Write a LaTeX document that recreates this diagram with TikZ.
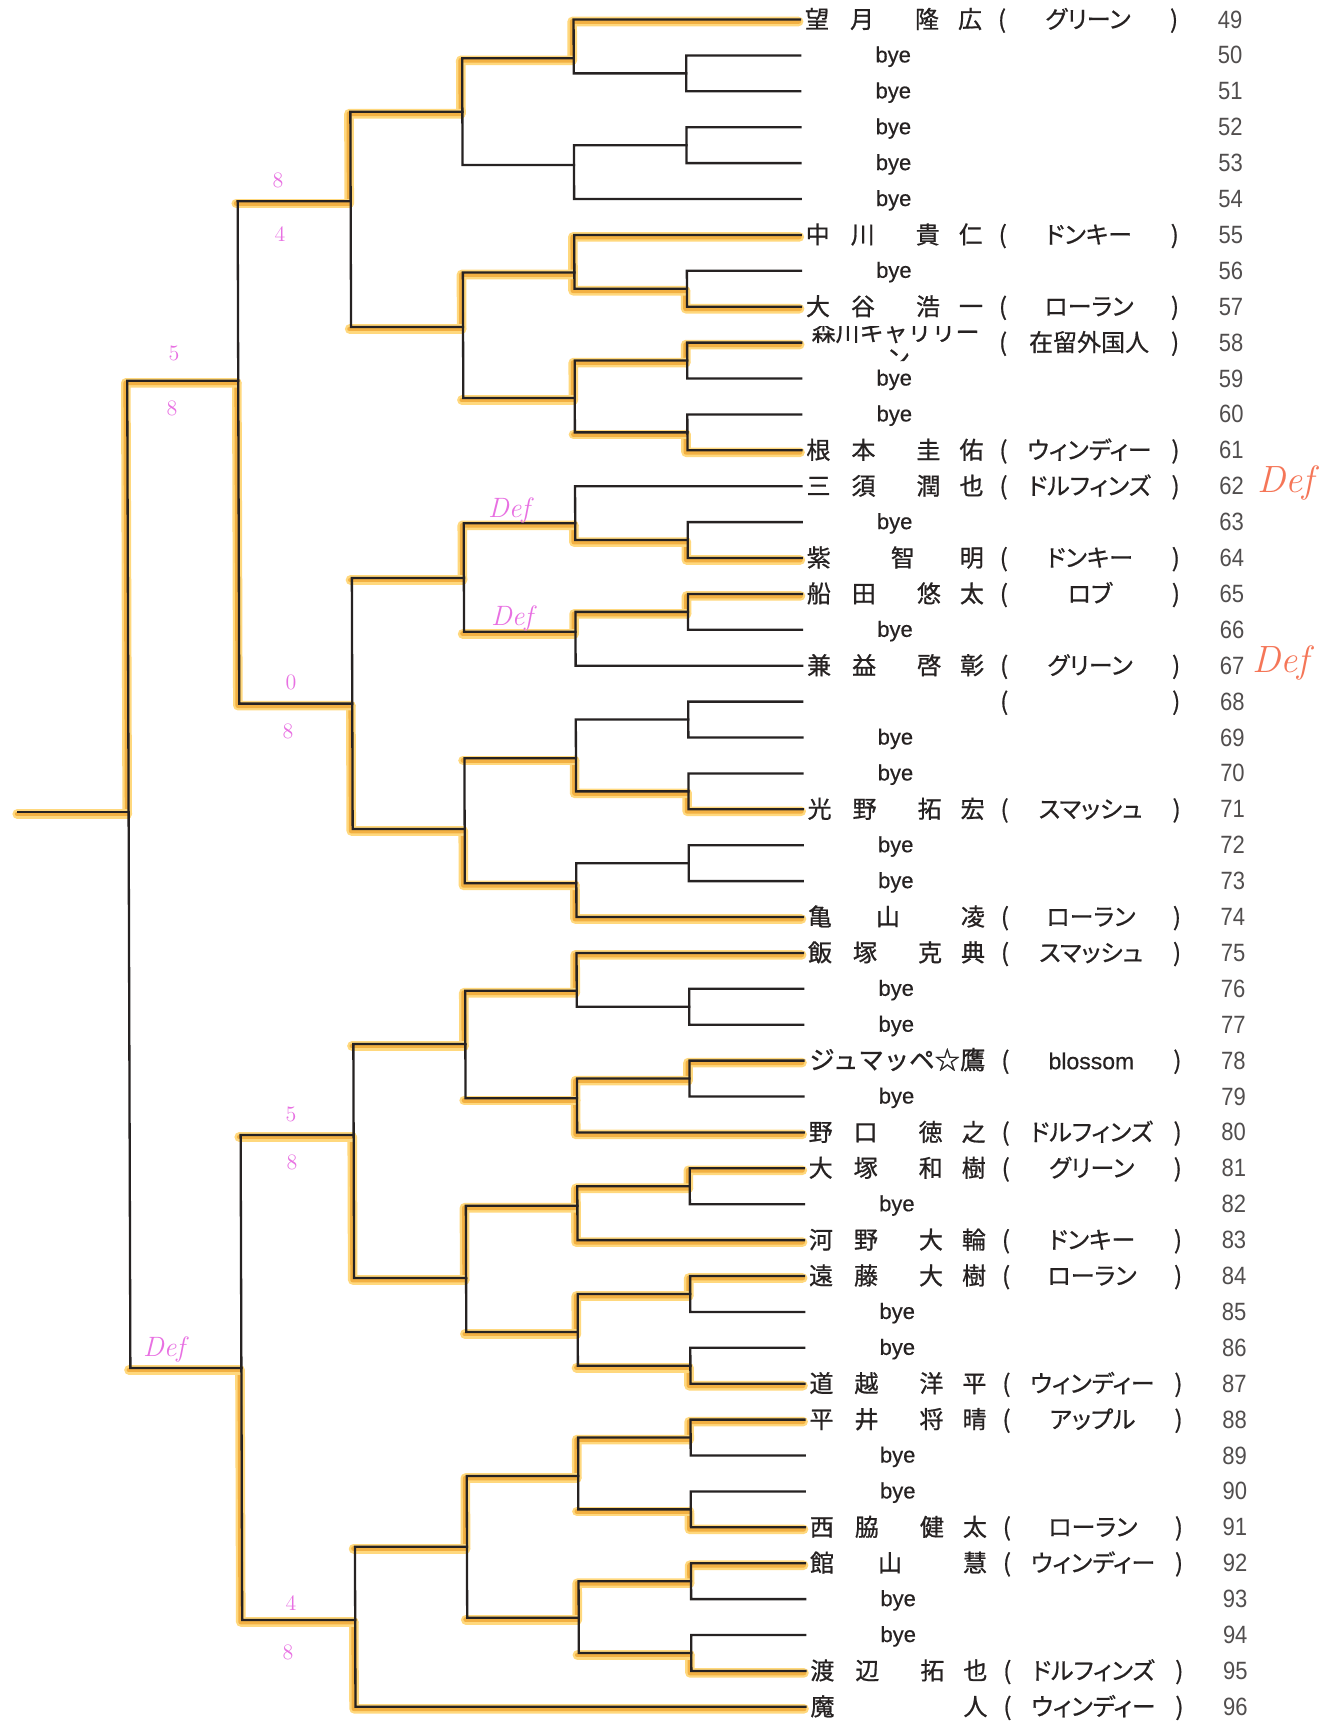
\documentclass[tikz,border=0pt]{standalone}
\usepackage{fontspec}
\newfontfamily\jp[FakeBold=0.8]{Noto Sans CJK JP}
\newfontfamily\jpp[RawFeature=+palt,FakeBold=0.6]{Noto Sans CJK JP}
\newfontfamily\lat[FakeBold=0.5]{Liberation Sans}
\newfontfamily\numf[FakeStretch=0.88]{Liberation Sans}
\usetikzlibrary{calc}
\definecolor{ink}{RGB}{38,34,34}
\definecolor{hlout}{RGB}{255,216,125}
\definecolor{hlin}{RGB}{242,176,66}
\definecolor{hpink}{RGB}{232,112,226}
\definecolor{redink}{RGB}{245,118,88}
\tikzset{
  ln/.style={draw=ink, line width=1.15pt, line cap=rect, line join=miter},
  hlo/.style={draw=hlout, line width=4.8pt, line cap=round, line join=round, transform canvas={xshift=-0.7pt,yshift=-1pt}},
  hli/.style={draw=hlin, line width=2.4pt, line cap=round, line join=round, transform canvas={xshift=-0.7pt,yshift=-1pt}},
  nmb/.style={font=\jp\fontsize{12}{12}\selectfont, text=ink, anchor=base, inner sep=0pt},
  nm/.style={nmb, yshift=-4.3pt},
  cl/.style={font=\jpp\fontsize{12}{12}\selectfont, text=ink, anchor=base, inner sep=0pt, yshift=-4.3pt},
  byest/.style={font=\lat\fontsize{11}{11}\selectfont, text=ink, anchor=base, inner sep=0pt, yshift=-3.5pt},
  numst/.style={font=\numf\fontsize{12.5}{12.5}\selectfont, text=ink!80, anchor=base, inner sep=0pt, yshift=-4.25pt},
  pk/.style={font=\rmfamily\fontsize{11}{11}\selectfont, text=hpink, inner sep=0pt},
  pkdef/.style={font=\rmfamily\itshape\fontsize{14}{14}\selectfont, text=hpink, inner sep=0pt},
  rddef/.style={font=\rmfamily\itshape\fontsize{19}{19}\selectfont, text=redink, inner sep=0pt}
}
\newcommand{\rowy}[1]{19.5+(#1-49)*35.9}
\newcommand{\rone}[2]{\coordinate (m#1#2) at (686,{19.5+((#1+#2)/2-49)*35.9});}
\newcommand{\bk}[3]{\draw[ln] (#2) -- (#2 -| #1) -- (#3 -| #1) -- (#3);}
\newcommand{\hlW}[2]{\draw[hlo] (#2) -- (#2 -| #1) -- (#1); \draw[hli] (#2) -- (#2 -| #1) -- (#1);}
\newcommand{\hlH}[2]{\draw[hlo] (#2) -- (#2 -| #1); \draw[hli] (#2) -- (#2 -| #1);}
\newcommand{\clubrow}[2]{%
  \node[nm] (lp#1) at (1002,{\rowy{#1}}) {(};
  \node[cl] (cl#1) at (1088,{\rowy{#1}}) {#2};
  \node[nm] (rp#1) at (1174,{\rowy{#1}}) {)};}
\newcommand{\pfour}[6]{%
  \node[nm] (p#1a) at (817,{\rowy{#1}}) {#2};
  \node[nm] (p#1b) at (862,{\rowy{#1}}) {#3};
  \node[nm] (p#1c) at (927,{\rowy{#1}}) {#4};
  \node[nm] (p#1d) at (970,{\rowy{#1}}) {#5};
  \clubrow{#1}{#6}}
\newcommand{\pthree}[6]{%
  \node[nm] (p#1a) at (817,{\rowy{#1}}) {#2};
  \node[nm] (p#1b) at (#5,{\rowy{#1}}) {#3};
  \node[nm] (p#1c) at (970,{\rowy{#1}}) {#4};
  \clubrow{#1}{#6}}
\newcommand{\ptwo}[4]{%
  \node[nm] (p#1a) at (817,{\rowy{#1}}) {#2};
  \node[nm] (p#1b) at (970,{\rowy{#1}}) {#3};
  \clubrow{#1}{#4}}
\newcommand{\byerow}[1]{\node[byest] (bye#1) at (893,{\rowy{#1}}) {bye};}

\begin{document}
\begin{tikzpicture}[x=0.5pt,y=-0.5pt]
\useasboundingbox (0,0) rectangle (1319,1730);
\fill[white] (0,0) rectangle (1319,1730);
\begin{scope}[xslant=-0.0032]
% leaves
\foreach \n in {49,...,96} {\coordinate (L\n) at (800,{\rowy{\n}});}
% round 1
\rone{50}{51}\rone{52}{53}\rone{56}{57}\rone{58}{59}\rone{60}{61}\rone{63}{64}
\rone{65}{66}\rone{68}{69}\rone{70}{71}\rone{72}{73}\rone{76}{77}\rone{78}{79}
\rone{81}{82}\rone{84}{85}\rone{86}{87}\rone{88}{89}\rone{90}{91}\rone{92}{93}\rone{94}{95}
% round 2
\coordinate (A1) at (573.5,58.3);
\coordinate (A2) at (573.5,165);
\coordinate (B1) at (573.5,272.5);
\coordinate (B2) at (573.5,398);
\coordinate (C1) at (573.5,523.3);
\coordinate (C2) at (573.5,631.7);
\coordinate (D1) at (573.5,758.3);
\coordinate (D2) at (573.5,883.3);
\coordinate (E1) at (573.5,990.7);
\coordinate (E2) at (573.5,1098.3);
\coordinate (F1) at (573.5,1205.7);
\coordinate (F2) at (573.5,1332);
\coordinate (G1) at (573.5,1476);
\coordinate (G2) at (573.5,1617.7);
% round 3
\coordinate (A) at (462,111.7);
\coordinate (B) at (462,327);
\coordinate (C) at (462,578);
\coordinate (D) at (462,829);
\coordinate (E) at (462,1044);
\coordinate (F) at (462,1278);
\coordinate (G) at (462,1546.7);
% round 4
\coordinate (Q1) at (350,201.3);
\coordinate (Q2) at (350,703.6);
\coordinate (Q3) at (350,1135);
\coordinate (Q4) at (350,1620);
% round 5
\coordinate (S1) at (237,380.8);
\coordinate (S2) at (237,1368);
% final
\coordinate (W) at (126,812);
\coordinate (W0) at (16,812);

% ---------- highlights ----------
\hlW{m5657}{L57}\hlW{m5859}{L58}\hlW{m6061}{L61}\hlW{m6364}{L64}\hlW{m6566}{L65}
\hlW{m7071}{L71}\hlW{m7879}{L78}\hlW{m8182}{L81}\hlW{m8485}{L84}\hlW{m8687}{L87}
\hlW{m8889}{L88}\hlW{m9091}{L91}\hlW{m9293}{L92}\hlW{m9495}{L95}
\hlW{A1}{L49}\hlW{B1}{L55}\hlW{B1}{m5657}\hlW{B2}{m5859}\hlH{B2}{m6061}
\hlW{C1}{m6364}\hlW{C2}{m6566}\hlW{D1}{m7071}\hlW{D2}{L74}
\hlW{E1}{L75}\hlW{E2}{m7879}\hlW{E2}{L80}\hlW{F1}{m8182}\hlW{F1}{L83}
\hlW{F2}{m8485}\hlH{F2}{m8687}\hlW{G1}{m8889}\hlH{G1}{m9091}\hlW{G2}{m9293}\hlH{G2}{m9495}
\hlW{A}{A1}\hlW{B}{B1}\hlH{B}{B2}\hlW{C}{C1}\hlH{C}{C2}\hlW{D}{D2}\hlH{D}{D1}
\hlW{E}{E1}\hlH{E}{E2}\hlW{F}{F1}\hlH{F}{F2}\hlW{G}{G1}\hlH{G}{G2}
\hlW{Q1}{A}\hlH{Q1}{B}\hlW{Q2}{D}\hlH{Q2}{C}\hlW{Q3}{F}\hlH{Q3}{E}\hlW{Q4}{L96}\hlH{Q4}{G}
\hlW{S1}{Q2}\hlH{S1}{Q1}\hlW{S2}{Q4}\hlH{S2}{Q3}
\hlW{W}{S1}\hlH{W}{S2}
\draw[hlo] (W) -- (W0); \draw[hli] (W) -- (W0);

% ---------- bracket lines ----------
\bk{m5051}{L50}{L51}\bk{m5253}{L52}{L53}\bk{m5657}{L56}{L57}\bk{m5859}{L58}{L59}
\bk{m6061}{L60}{L61}\bk{m6364}{L63}{L64}\bk{m6566}{L65}{L66}\bk{m6869}{L68}{L69}
\bk{m7071}{L70}{L71}\bk{m7273}{L72}{L73}\bk{m7677}{L76}{L77}\bk{m7879}{L78}{L79}
\bk{m8182}{L81}{L82}\bk{m8485}{L84}{L85}\bk{m8687}{L86}{L87}\bk{m8889}{L88}{L89}
\bk{m9091}{L90}{L91}\bk{m9293}{L92}{L93}\bk{m9495}{L94}{L95}
\bk{A1}{L49}{m5051}\bk{A2}{m5253}{L54}\bk{B1}{L55}{m5657}\bk{B2}{m5859}{m6061}
\bk{C1}{L62}{m6364}\bk{C2}{m6566}{L67}\bk{D1}{m6869}{m7071}\bk{D2}{m7273}{L74}
\bk{E1}{L75}{m7677}\bk{E2}{m7879}{L80}\bk{F1}{m8182}{L83}\bk{F2}{m8485}{m8687}
\bk{G1}{m8889}{m9091}\bk{G2}{m9293}{m9495}
\bk{A}{A1}{A2}\bk{B}{B1}{B2}\bk{C}{C1}{C2}\bk{D}{D1}{D2}\bk{E}{E1}{E2}\bk{F}{F1}{F2}\bk{G}{G1}{G2}
\bk{Q1}{A}{B}\bk{Q2}{C}{D}\bk{Q3}{E}{F}\bk{Q4}{G}{L96}
\bk{S1}{Q1}{Q2}\bk{S2}{Q3}{Q4}
\bk{W}{S1}{S2}
\draw[ln] (W) -- (W0);

% ---------- texts ----------
\foreach \n in {49,...,96} {\node[numst] (num\n) at (1230,{\rowy{\n}}) {\n};}
\foreach \n in {50,51,52,53,54,56,59,60,63,66,69,70,72,73,76,77,79,82,85,86,89,90,93,94} {\byerow{\n}}
\pfour{49}{望}{月}{隆}{広}{グリーン}
\pfour{55}{中}{川}{貴}{仁}{ドンキー}
\pfour{57}{大}{谷}{浩}{一}{ローラン}
\begin{scope}
\clip (800,326) rectangle (1000,361);
\node[nmb] (p58a) at (894.5,341) {森川キャリリー};
\node[nmb] (p58b) at (897,367) {ン};
\end{scope}
\clubrow{58}{在留外国人}
\pfour{61}{根}{本}{圭}{佑}{ウィンディー}
\pfour{62}{三}{須}{潤}{也}{ドルフィンズ}
\pthree{64}{紫}{智}{明}{901}{ドンキー}
\pfour{65}{船}{田}{悠}{太}{ロブ}
\pfour{67}{兼}{益}{啓}{彰}{グリーン}
\clubrow{68}{}
\pfour{71}{光}{野}{拓}{宏}{スマッシュ}
\pthree{74}{亀}{山}{凌}{885}{ローラン}
\pfour{75}{飯}{塚}{克}{典}{スマッシュ}
\node[nm, font=\jp\fontsize{12.7}{12.7}\selectfont] (p78) at (894,{\rowy{78}}) {ジュマッペ☆鷹};
\clubrow{78}{{\lat\fontsize{11.5}{11.5}\selectfont blossom}}
\pfour{80}{野}{口}{徳}{之}{ドルフィンズ}
\pfour{81}{大}{塚}{和}{樹}{グリーン}
\pfour{83}{河}{野}{大}{輪}{ドンキー}
\pfour{84}{遠}{藤}{大}{樹}{ローラン}
\pfour{87}{道}{越}{洋}{平}{ウィンディー}
\pfour{88}{平}{井}{将}{晴}{アップル}
\pfour{91}{西}{脇}{健}{太}{ローラン}
\pthree{92}{館}{山}{慧}{885}{ウィンディー}
\pfour{95}{渡}{辺}{拓}{也}{ドルフィンズ}
\ptwo{96}{魔}{人}{ウィンディー}
\end{scope}

% ---------- handwritten marks ----------
\node[pk] (h1) at (278,180) {8};
\node[pk] (h2) at (280,234) {4};
\node[pk] (h3) at (174,353) {5};
\node[pk] (h4) at (172,408) {8};
\node[pk] (h5) at (291,682) {0};
\node[pk] (h6) at (288,731) {8};
\node[pkdef] (h7) at (509,510) {Def};
\node[pkdef] (h8) at (512,618) {Def};
\node[pk] (h9) at (291,1114) {5};
\node[pk] (h10) at (292,1162) {8};
\node[pkdef] (h11) at (164,1349) {Def};
\node[pk] (h12) at (291,1603) {4};
\node[pk] (h13) at (288,1652) {8};
\node[rddef] (r1) at (1286,483) {Def};
\node[rddef] (r2) at (1281,663) {Def};
\end{tikzpicture}
\end{document}
